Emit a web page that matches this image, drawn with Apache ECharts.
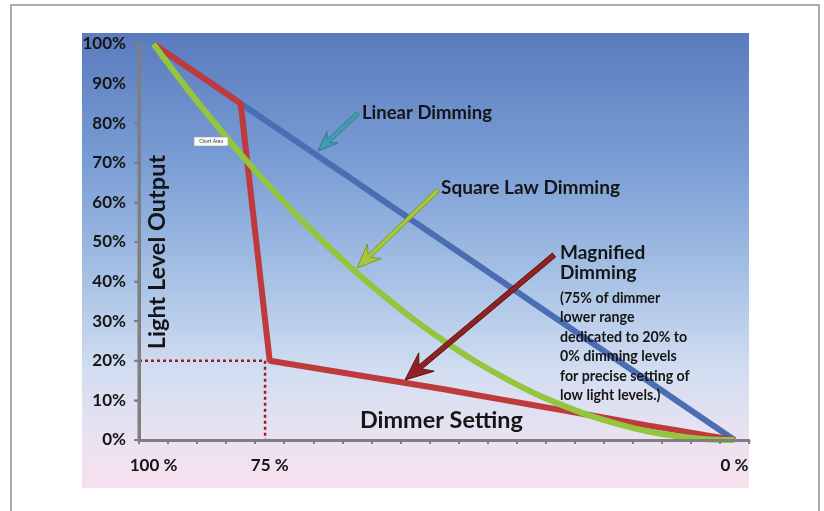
<!DOCTYPE html>
<html>
<head>
<meta charset="utf-8">
<script src="https://cdn.jsdelivr.net/npm/echarts@6/dist/echarts.min.js"></script>
<style>html,body{margin:0;padding:0;background:#fff}#c{width:824px;height:511px}</style>
</head>
<body>
<div id="c"></div>
<script>
// ---- data ----
const dimmerLabels = ['100 %','','','','75 %','','','','','','','','','','','','','','','','0 %'];
const dimmerIndex = [0,1,2,3,4,5,6,7,8,9,10,11,12,13,14,15,16,17,18,19,20];
const linearDimming = [100,95,90,85,80,75,70,65,60,55,50,45,40,35,30,25,20,15,10,5,0];
const squareLawDimming = [100,90.2,81,72.2,64,56.2,49,42.2,36,30.2,25,20.2,16,12.2,9,6.2,4,2.2,1,0.2,0];
const magnifiedDimming = [100,95,90,85,20,18.8,17.6,16.4,15.2,14,12.8,11.5,10.2,8.9,7.6,6.3,5,3.7,2.5,1.2,0];
const yTickValues = [0,10,20,30,40,50,60,70,80,90,100];
const yTicks = ['0%','10%','20%','30%','40%','50%','60%','70%','80%','90%','100%'];
const markerLevel = 20;     // dotted guide: 20% output
const markerSetting = 3.84; // dotted guide: dimmer position (index units)

const FONT = 'Lato';
const chart = echarts.init(document.getElementById('c'));

function arrowPoints(x1,y1,x2,y2,shaftW,headL,headW){
  const dx=x2-x1, dy=y2-y1, len=Math.hypot(dx,dy);
  const ux=dx/len, uy=dy/len, nx=-uy, ny=ux;
  const nkx=x2-ux*headL*0.72, nky=y2-uy*headL*0.72;
  const bx=x2-ux*headL, by=y2-uy*headL;
  const s=shaftW/2, h=headW/2;
  return [[x1+nx*s,y1+ny*s],[nkx+nx*s,nky+ny*s],[bx+nx*h,by+ny*h],[x2,y2],
          [bx-nx*h,by-ny*h],[nkx-nx*s,nky-ny*s],[x1-nx*s,y1-ny*s]];
}
function arrow(x1,y1,x2,y2,fill,stroke,shaftW,headL,headW){
  return {type:'polygon', z:50, shape:{points:arrowPoints(x1,y1,x2,y2,shaftW,headL,headW)},
          style:{fill:fill, stroke:stroke, lineWidth:1}};
}
function txt(x,y,text,size,extra){
  return Object.assign({type:'text', z:60, x:x, y:y,
    style:Object.assign({text:text, fill:'#151515', font:'bold '+size+'px '+FONT, textVerticalAlign:'middle'}, extra||{})});
}

// value-axis position of a category: its centre (index + 0.5) on a 0..21 scale
const centre = (i)=>i+0.5;
const seriesData = (arr)=>dimmerIndex.map((x,i)=>[centre(x),arr[i]]);

chart.setOption({
  animation:false,
  backgroundColor:'#ffffff',
  grid:{left:139, right:75, top:44, bottom:71},
  xAxis:[
    {type:'category', data:dimmerLabels, boundaryGap:true, position:'bottom', z:10,
     axisLine:{lineStyle:{color:'#7f7f7f', width:3}},
     axisTick:{show:true, interval:0, length:4, lineStyle:{color:'#7f7f7f', width:2}},
     axisLabel:{interval:0, margin:17, color:'#151515', fontFamily:FONT, fontWeight:'bold', fontSize:17},
     splitLine:{show:false}},
    {type:'value', show:false, min:0, max:dimmerLabels.length}
  ],
  yAxis:{type:'value', min:0, max:100, interval:10, z:10,
    axisLine:{show:true, lineStyle:{color:'#7f7f7f', width:3}},
    axisTick:{show:true, length:4, lineStyle:{color:'#7f7f7f', width:2}},
    axisLabel:{margin:13, color:'#151515', fontFamily:FONT, fontWeight:'bold', fontSize:17,
      formatter:(v)=>yTicks[Math.round(v/10)]},
    splitLine:{show:false}},
  series:[
    {name:'guide-h', type:'line', xAxisIndex:1, symbol:'none', z:3,
     data:[[0,markerLevel],[centre(markerSetting),markerLevel]],
     lineStyle:{color:'#9e1b2c', width:2.5, type:[3,3]}},
    {name:'guide-v', type:'line', xAxisIndex:1, symbol:'none', z:3,
     data:[[centre(markerSetting),markerLevel],[centre(markerSetting),0]],
     lineStyle:{color:'#9e1b2c', width:2.5, type:[3,3]}},
    {name:'Linear Dimming', type:'line', xAxisIndex:1, symbol:'none', z:4,
     data:seriesData(linearDimming), lineStyle:{color:'#4a6db3', width:6}},
    {name:'Magnified Dimming', type:'line', xAxisIndex:1, symbol:'none', z:5,
     data:seriesData(magnifiedDimming), lineStyle:{color:'#be3a3c', width:6}},
    {name:'Square Law Dimming', type:'line', xAxisIndex:1, symbol:'none', z:6, smooth:0.3,
     data:seriesData(squareLawDimming), lineStyle:{color:'#94c53e', width:6}}
  ],
  graphic:[
    {id:'bg', type:'rect', z:-10, silent:true, shape:{x:82, y:33, width:667, height:455},
     style:{fill:new echarts.graphic.LinearGradient(0,0,0,1,[
       {offset:0, color:'#5a7bbd'},{offset:0.3, color:'#7c9fd6'},{offset:0.55, color:'#a9c3e6'},
       {offset:0.75, color:'#d3def1'},{offset:0.9, color:'#ece2f1'},{offset:1, color:'#f7e0ee'}])}},
    {id:'frame', type:'rect', z:-5, silent:true, shape:{x:11, y:5, width:808, height:520},
     style:{fill:'none', stroke:'#ababab', lineWidth:2}},
    Object.assign({id:'a1'}, arrow(358,113,318,151,'#3f9fae','#2c7f8c',4,20,16)),
    Object.assign({id:'a2'}, arrow(438,190,357,268,'#a6c93c','#7d9a26',4,24,20)),
    Object.assign({id:'a3'}, arrow(554,255,405,380,'#8e2323','#5f1212',5,28,24)),
    Object.assign({id:'t1'}, txt(362,113,'Linear Dimming',18.5)),
    Object.assign({id:'t2'}, txt(441,188,'Square Law Dimming',19)),
    Object.assign({id:'t3'}, txt(560,253,'Magnified',19)),
    Object.assign({id:'t4'}, txt(560,273,'Dimming',19)),
    Object.assign({id:'t5'}, txt(560,298,'(75% of dimmer',14.2)),
    Object.assign({id:'t6'}, txt(560,317,'lower range',14.2)),
    Object.assign({id:'t7'}, txt(560,337,'dedicated to 20% to',14.2)),
    Object.assign({id:'t8'}, txt(560,356,'0% dimming levels',14.2)),
    Object.assign({id:'t9'}, txt(560,376,'for precise setting of',14.2)),
    Object.assign({id:'t10'}, txt(560,395,'low light levels.)',14.2)),
    Object.assign({id:'t11'}, txt(360,420,'Dimmer Setting',23.4)),
    {id:'ytitle', type:'text', z:60, x:157, y:252, rotation:Math.PI/2,
     style:{text:'Light Level Output', fill:'#151515', font:'bold 23.5px '+FONT, textAlign:'center', textVerticalAlign:'middle'}},
    {id:'ca-box', type:'rect', z:60, shape:{x:194, y:137, width:34, height:9},
     style:{fill:'#fafafa', stroke:'#9a9a9a', lineWidth:0.6}},
    {id:'ca-text', type:'text', z:61, x:211, y:141.5,
     style:{text:'Chart Area', fill:'#333', font:'5px '+FONT, textAlign:'center', textVerticalAlign:'middle'}}
  ]
});

// Vertical value-axis line and ticks, positioned through the library's own scales
const axisX = chart.convertToPixel({xAxisIndex:1}, 0);
const yTop = chart.convertToPixel({yAxisIndex:0}, yTickValues[yTickValues.length-1]);
const yBottom = chart.convertToPixel({yAxisIndex:0}, yTickValues[0]);
const axisEls = [{id:'y-axis-line', type:'line', z:40, silent:true,
  shape:{x1:axisX, y1:yTop, x2:axisX, y2:yBottom+1.5},
  style:{stroke:'#7f7f7f', lineWidth:3}}];
yTickValues.forEach((v,i)=>{
  const py = chart.convertToPixel({yAxisIndex:0}, v);
  axisEls.push({id:'y-tick-'+i, type:'line', z:40, silent:true,
    shape:{x1:axisX-5, y1:py, x2:axisX, y2:py}, style:{stroke:'#7f7f7f', lineWidth:2}});
});
chart.setOption({graphic:axisEls});
</script>
</body>
</html>
